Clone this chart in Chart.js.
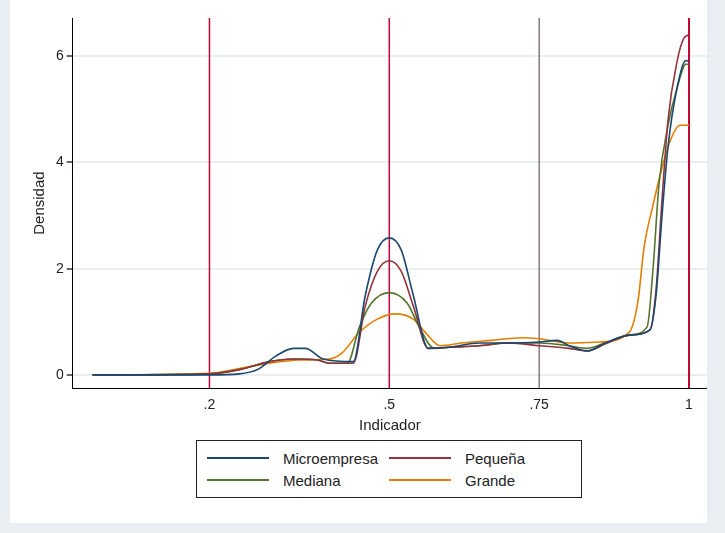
<!DOCTYPE html>
<html><head><meta charset="utf-8">
<script src="https://cdn.jsdelivr.net/npm/chart.js@4"></script>
<style>
body{margin:0;background:#e9eef2;width:725px;height:533px;position:relative;font-family:"Liberation Sans",Arial,sans-serif}
#box{position:absolute;left:10px;top:0;width:697px;height:523px;background:#fff}
#wrap{position:absolute;left:0;top:0;width:697px;height:435px}
#legend{position:absolute;left:186px;top:440px;width:386px;height:58px;border:1px solid #222;box-sizing:border-box;display:grid;grid-template-columns:1fr 1fr;padding:6px 10px;font-size:15px;color:#222}
#legend div{display:flex;align-items:center}
#legend span{display:inline-block;width:62px;height:2px;margin-right:14px}
</style></head><body>
<div id="box"><div id="wrap"><canvas id="c"></canvas></div>
<div id="legend"></div></div>
<script>
// x values and series
const xMicro = [0.005,0.2,0.25,0.28,0.31,0.34,0.36,0.39,0.44,0.46,0.48,0.5,0.52,0.54,0.565,0.6,0.65,0.7,0.75,0.78,0.8,0.83,0.86,0.9,0.935,0.945,0.955,0.965,0.98,0.995,1];
const yMicro = [0,0,0.02,0.1,0.35,0.5,0.5,0.3,0.25,1.5,2.35,2.58,2.35,1.5,0.5,0.52,0.6,0.6,0.62,0.65,0.55,0.45,0.6,0.75,0.85,1.5,3,4.3,5.4,5.92,5.9];
const xPeq = [0.005,0.2,0.25,0.3,0.34,0.38,0.4,0.44,0.46,0.48,0.5,0.52,0.54,0.565,0.6,0.65,0.7,0.75,0.8,0.83,0.86,0.9,0.935,0.945,0.955,0.965,0.98,0.992,1];
const yPeq = [0,0.02,0.1,0.25,0.3,0.28,0.22,0.22,1.3,1.95,2.15,1.95,1.3,0.5,0.52,0.55,0.6,0.55,0.5,0.45,0.58,0.75,0.85,1.6,3.3,4.8,5.9,6.35,6.4];
const xMed = [0.005,0.2,0.25,0.3,0.34,0.38,0.4,0.43,0.45,0.47,0.5,0.53,0.55,0.575,0.6,0.65,0.7,0.75,0.8,0.83,0.86,0.9,0.93,0.94,0.95,0.965,0.98,0.995,1];
const yMed = [0,0.02,0.1,0.25,0.3,0.28,0.22,0.22,0.9,1.35,1.55,1.35,0.9,0.5,0.52,0.55,0.6,0.6,0.55,0.5,0.6,0.75,0.9,2,3.6,4.7,5.4,5.85,5.85];
const xGra = [0.005,0.2,0.25,0.3,0.35,0.4,0.42,0.45,0.48,0.51,0.54,0.56,0.585,0.62,0.67,0.72,0.75,0.8,0.85,0.9,0.915,0.925,0.94,0.955,0.97,0.985,1];
const yGra = [0,0.03,0.12,0.22,0.28,0.3,0.4,0.8,1.05,1.15,1.05,0.8,0.55,0.6,0.65,0.7,0.68,0.6,0.62,0.8,1.4,2.4,3.2,3.9,4.45,4.7,4.7];
const names = ['Microempresa','Pequeña','Mediana','Grande'];
const colors = ['#1a476f','#90353b','#55752f','#e37e00'];
const xTicks = [0.2,0.5,0.75,1];
const tickText = {0.2:'.2',0.5:'.5',0.75:'.75',1:'1'};
const yTicks = [0,2,4,6];

const series = [[xMicro,yMicro],[xPeq,yPeq],[xMed,yMed],[xGra,yGra]];
const vlines = {id:'vlines',beforeDatasetsDraw(ch){
  const c=ch.ctx,a=ch.chartArea,s=ch.scales.x;
  [[0.2,'#c10534',1.5],[0.5,'#c10534',1.5],[0.75,'#4a3a3e',1],[1,'#c10534',2]].forEach(([v,col,w])=>{
    const px=s.getPixelForValue(v);c.save();c.strokeStyle=col;c.lineWidth=w;
    c.beginPath();c.moveTo(px,a.top);c.lineTo(px,a.bottom);c.stroke();c.restore();});
}};
new Chart(document.getElementById('c'),{
  type:'line',
  data:{datasets:series.map((s,i)=>({label:names[i],data:s[0].map((x,j)=>({x,y:s[1][j]})),
    borderColor:colors[i],borderWidth:1.6,pointRadius:0,cubicInterpolationMode:'monotone',fill:false}))},
  options:{responsive:true,maintainAspectRatio:false,animation:false,
    layout:{padding:{top:18,right:0,left:17}},
    plugins:{legend:{display:false},tooltip:{enabled:false}},
    scales:{
      x:{type:'linear',min:-0.028,max:1.03,
        afterBuildTicks:ax=>{ax.ticks=xTicks.map(v=>({value:v}));},
        ticks:{callback:v=>tickText[v],color:'#222',font:{size:14}},
        grid:{display:false,drawTicks:true,tickLength:6,tickColor:'#666'},
        border:{color:'#000'},
        title:{display:true,text:'Indicador',color:'#222',font:{size:15},padding:0}},
      y:{min:-0.25,max:6.72,
        afterBuildTicks:ax=>{ax.ticks=yTicks.map(v=>({value:v}));},
        ticks:{color:'#222',font:{size:14}},
        grid:{color:'#e8eef2',lineWidth:2,tickColor:'#666',tickLength:6},
        border:{color:'#000'},
        title:{display:true,text:'Densidad',color:'#222',font:{size:15}}}
    }},
  plugins:[vlines]
});
document.getElementById('legend').innerHTML=names.map((n,i)=>`<div><span style="background:${colors[i]}"></span>${n}</div>`).join('');
</script></body></html>
